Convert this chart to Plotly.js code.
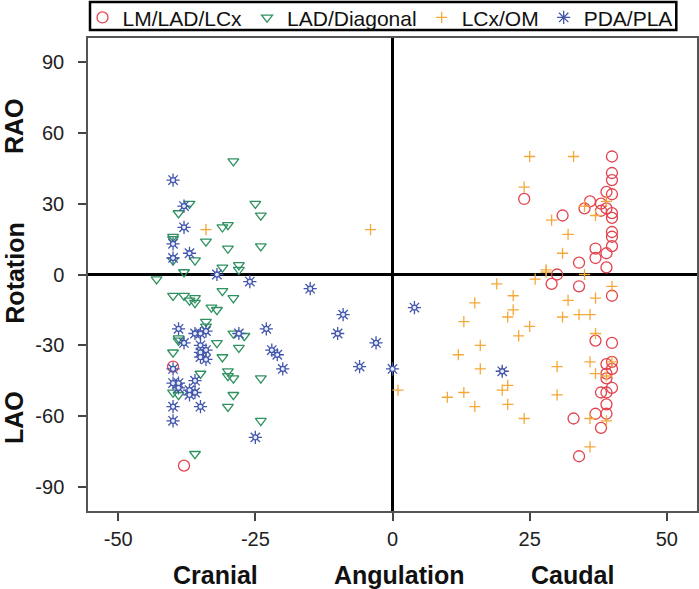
<!DOCTYPE html>
<html>
<head>
<meta charset="utf-8">
<script src="https://cdn.plot.ly/plotly-3.0.1.min.js"></script>
<style>html,body{margin:0;padding:0;background:#fff}</style>
</head>
<body>
<div id="myDiv" style="width:699px;height:589px"></div>
<script>
// Angulation (x) and rotation (y) per target vessel
const lmX = [-40,-38,40,40,40,39,40,24,36,38,35,39,38,40,40,31,40,40,40,37,37,39,34,39,30,29,34,40,37,40,40,39,40,39,39,40,38,39,39,37,39,33,38,34];
const lmY = [-39,-81,50,43,40,35,34,32,31,30,28,28,27,26,24,25,18,16,12,11,7,9,5,3,0,-4,-5,-9,-28,-29,-37,-38,-40,-42,-44,-48,-50,-50,-55,-59,-59,-61,-65,-77];

const ladX = [-29,-37,-39,-25,-24,-30,-31,-34,-30,-24,-40,-40,-36,-40,-38,-43,-31,-28,-28,-40,-38,-37,-36,-36,-31,-29,-33,-32,-34,-34,-29,-27,-39,-39,-32,-28,-40,-31,-35,-30,-30,-29,-24,-40,-39,-29,-30,-24,-36];
const ladY = [48,30,26,30,25,21,20,14,11,12,16,15,6,6,1,-2,3,4,2,-9,-9,-11,-10,-12,-7,-10,-14,-15,-20,-22,-25,-26,-27,-28,-29,-31,-33,-35,-42,-41,-43,-44,-44,-50,-51,-51,-56,-62,-76];

const lcxX = [25,33,24,35,39,37,29,32,31,28,28,35,26,19,22,22,21,32,37,40,31,34,36,25,23,37,36,30,37,40,39,30,21,20,20,21,24,36,39,36,15,13,16,12,16,13,10,1,15,-4,-34];
const lcxY = [50,50,37,29,31,25,23,17,9,2,1,0,-2,-4,-9,-15,-18,-11,-10,-5,-18,-17,-17,-22,-26,-25,-37,-39,-42,-37,-43,-51,-47,-49,-41,-55,-61,-61,-62,-73,-12,-20,-30,-34,-40,-50,-52,-49,-56,19,19];

const pdaX = [-40,-38,-38,-40,-40,-37,-32,-26,-39,-36,-35,-34,-28,-23,-38,-35,-34,-35,-35,-34,-22,-21,-20,-40,-40,-39,-39,-36,-37,-36,-37,-40,-35,-40,-25,-15,-9,-10,-3,-6,0,4,20];
const pdaY = [40,29,20,13,7,9,0,-3,-23,-25,-25,-24,-25,-23,-29,-30,-32,-33,-35,-36,-32,-34,-40,-40,-46,-46,-48,-45,-49,-50,-51,-56,-56,-62,-69,-6,-17,-25,-29,-39,-40,-14,-41];

const xTicks = [-50,-25,0,25,50];
const xLabels = ['-50','-25','0','25','50'];
const yTicks = [-90,-60,-30,0,30,60,90];
const yLabels = ['-90','-60','-30','0','30','60','90'];

const lmColor = '#e2434f';
const ladColor = '#2f9160';
const lcxColor = '#f5a83a';
const pdaColor = '#4256ab';

function series(name, x, y, symbol, size, color) {
    return {
        type: 'scatter', mode: 'markers', name: name, x: x, y: y,
        marker: {symbol: symbol, size: size, color: color, line: {color: color, width: 1.3}}
    };
}

// The PDA/PLA mark is a spiked ring, so a small ring goes over the asterisk
const pdaRing = {
    type: 'scatter', mode: 'markers', x: pdaX, y: pdaY, showlegend: false,
    marker: {symbol: 'circle', size: 5, color: '#e8ecf8', line: {color: pdaColor, width: 1.3}}
};

const traces = [
    series('LM/LAD/LCx', lmX, lmY, 'circle-open', 11, lmColor),
    series('LAD/Diagonal', ladX, ladY, 'triangle-down-open', 9.5, ladColor),
    series('LCx/OM', lcxX, lcxY, 'cross-thin-open', 8, lcxColor),
    series('PDA/PLA', pdaX, pdaY, 'asterisk-open', 11, pdaColor),
    pdaRing
];

const font = 'Liberation Sans, Arial, sans-serif';

// Bold axis captions, placed in paper fractions of the plot area
function caption(text, x, y, angle) {
    return {
        text: '<b>' + text + '</b>', x: x, y: y, xref: 'paper', yref: 'paper',
        xanchor: 'center', yanchor: 'middle',
        showarrow: false, textangle: angle, font: {family: font, size: 25, color: '#111'}
    };
}

const layout = {
    width: 699,
    height: 589,
    margin: {l: 88, r: 1.5, t: 38, b: 78, autoexpand: false},
    font: {family: font, size: 20, color: '#222'},
    paper_bgcolor: '#fff',
    plot_bgcolor: '#fff',
    showlegend: true,
    legend: {
        orientation: 'h', xref: 'paper', yref: 'paper',
        x: -0.009, xanchor: 'left', y: 1.086, yanchor: 'top',
        bgcolor: 'rgba(0,0,0,0)', font: {family: font, size: 21, color: '#111'}
    },
    // Box round the legend, drawn apart so that it can sit tighter than the legend's own border
    shapes: [{
        type: 'rect', xref: 'paper', yref: 'paper', x0: 0.0033, x1: 0.966, y0: 1.017, y1: 1.076,
        line: {color: '#000', width: 2.5}, fillcolor: 'rgba(0,0,0,0)'
    }],
    xaxis: {
        range: [-55.5, 55.5], tickvals: xTicks, ticktext: xLabels, ticks: 'outside', ticklen: 8, tickwidth: 1.5,
        tickcolor: '#444', showgrid: false, zeroline: true, zerolinecolor: '#000', zerolinewidth: 3,
        showline: true, mirror: true, linecolor: '#555', linewidth: 1.5, ticklabelstandoff: 1
    },
    yaxis: {
        range: [-100.2, 100.2], tickvals: yTicks, ticktext: yLabels, ticks: 'outside', ticklen: 8, tickwidth: 1.5,
        tickcolor: '#444', showgrid: false, zeroline: true, zerolinecolor: '#000', zerolinewidth: 3,
        showline: true, mirror: true, linecolor: '#555', linewidth: 1.5, ticklabelstandoff: 10
    },
    annotations: [
        caption('Cranial', 0.21, -0.135, 0),
        caption('Angulation', 0.512, -0.135, 0),
        caption('Caudal', 0.795, -0.135, 0),
        caption('RAO', -0.1205, 0.813, -90),
        caption('Rotation', -0.1205, 0.503, -90),
        caption('LAO', -0.1205, 0.198, -90)
    ]
};

Plotly.newPlot('myDiv', traces, layout, {displayModeBar: false, responsive: false});
</script>
</body>
</html>
